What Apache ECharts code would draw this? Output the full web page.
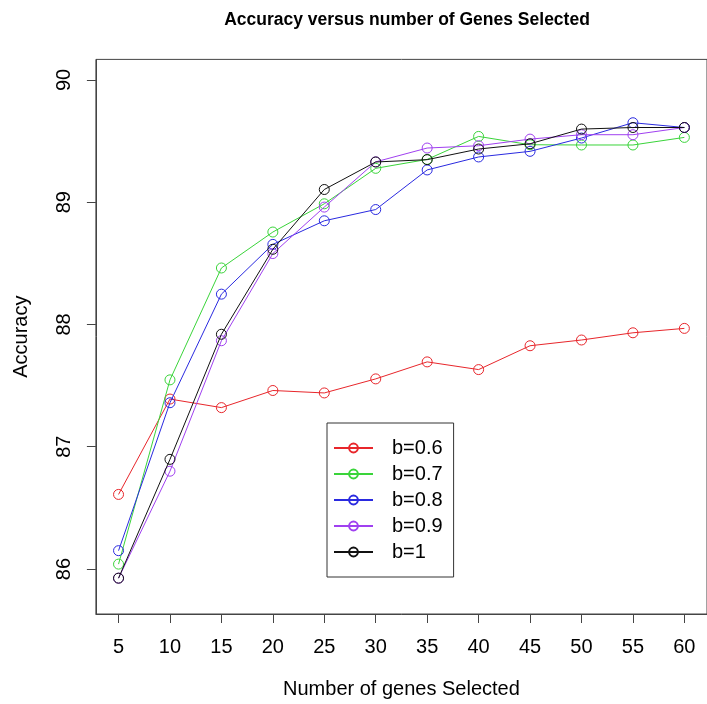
<!DOCTYPE html>
<html>
<head>
<meta charset="utf-8">
<script src="https://cdn.jsdelivr.net/npm/echarts@6/dist/echarts.min.js"></script>
<style>
html,body{margin:0;padding:0;background:#fff;}
#chart{width:707px;height:704px;}
</style>
</head>
<body>
<div id="chart"></div>
<script>
// genes selected (x)
var genes=[5,10,15,20,25,30,35,40,45,50,55,60];
var xTicks=[5,10,15,20,25,30,35,40,45,50,55,60];
var yTicks=[86,87,88,89,90];

var seriesNames=["b=0.6","b=0.7","b=0.8","b=0.9","b=1"];
var seriesColors=["#e8262b","#3ad43a","#2a2ae0","#a040f0","#111111"];

var b06=[86.61,87.39,87.32,87.46,87.44,87.555,87.694,87.631,87.826,87.873,87.932,87.968];
var b07=[86.04,87.547,88.462,88.756,88.987,89.277,89.35,89.538,89.47,89.468,89.468,89.53];
var b08=[86.15,87.36,88.248,88.655,88.848,88.94,89.264,89.37,89.416,89.525,89.65,89.611];
var b09=[85.925,86.80,87.867,88.58,88.96,89.33,89.443,89.462,89.516,89.552,89.552,89.611];
var b10=[85.925,86.897,87.92,88.615,89.104,89.329,89.348,89.435,89.478,89.598,89.611,89.611];

var allData=[b06,b07,b08,b09,b10];

var chart=echarts.init(document.getElementById("chart"),null,{renderer:"canvas"});

var font="Liberation Sans";

var series=allData.map(function(vals,i){
  return {
    name:seriesNames[i],
    type:"line",
    data:genes.map(function(g,j){return [g,vals[j]];}),
    symbol:"circle",
    symbolSize:10,
    lineStyle:{color:seriesColors[i],width:1},
    itemStyle:{color:"transparent",borderColor:seriesColors[i],borderWidth:1},
    emphasis:{disabled:true},
    z:2+i
  };
});

var option={
  animation:false,
  backgroundColor:"#fff",
  title:{
    text:"Accuracy versus number of Genes Selected",
    left:402,
    top:6,
    textAlign:"center",
    textStyle:{fontFamily:font,fontSize:17.5,fontWeight:"bold",color:"#000"}
  },
  grid:{
    left:95.9,
    top:59.4,
    width:618.5,
    height:556.4,
    show:true,
    borderColor:"#444",
    borderWidth:1,
    backgroundColor:"transparent"
  },
  legend:{
    orient:"vertical",
    left:327,
    top:423,
    data:seriesNames,
    itemWidth:39,
    itemHeight:11,
    itemGap:6,
    padding:[15,11,15,6],
    borderColor:"#333",
    borderWidth:1,
    selectedMode:false,
    textStyle:{fontFamily:font,fontSize:20,color:"#000",padding:[0,0,0,14]}
  },
  xAxis:{
    type:"value",
    min:2.8,
    max:62.2,
    name:"Number of genes Selected",
    nameLocation:"middle",
    nameGap:65,
    nameTextStyle:{fontFamily:font,fontSize:20,color:"#000"},
    axisLine:{show:true,lineStyle:{color:"#444"}},
    axisTick:{show:true,inside:false,length:9,customValues:xTicks,lineStyle:{color:"#444"}},
    axisLabel:{customValues:xTicks,margin:23,fontFamily:font,fontSize:20,color:"#000"},
    splitLine:{show:false}
  },
  yAxis:{
    type:"value",
    min:85.632,
    max:90.168,
    name:"Accuracy",
    nameLocation:"middle",
    nameGap:64,
    nameTextStyle:{fontFamily:font,fontSize:20,color:"#000"},
    axisLine:{show:true,lineStyle:{color:"#444"}},
    axisTick:{show:true,inside:false,length:9,customValues:yTicks,lineStyle:{color:"#444"}},
    axisLabel:{customValues:yTicks,rotate:90,margin:21,fontFamily:font,fontSize:20,color:"#000"},
    splitLine:{show:false}
  },
  series:series
};

chart.setOption(option);
</script>
</body>
</html>
